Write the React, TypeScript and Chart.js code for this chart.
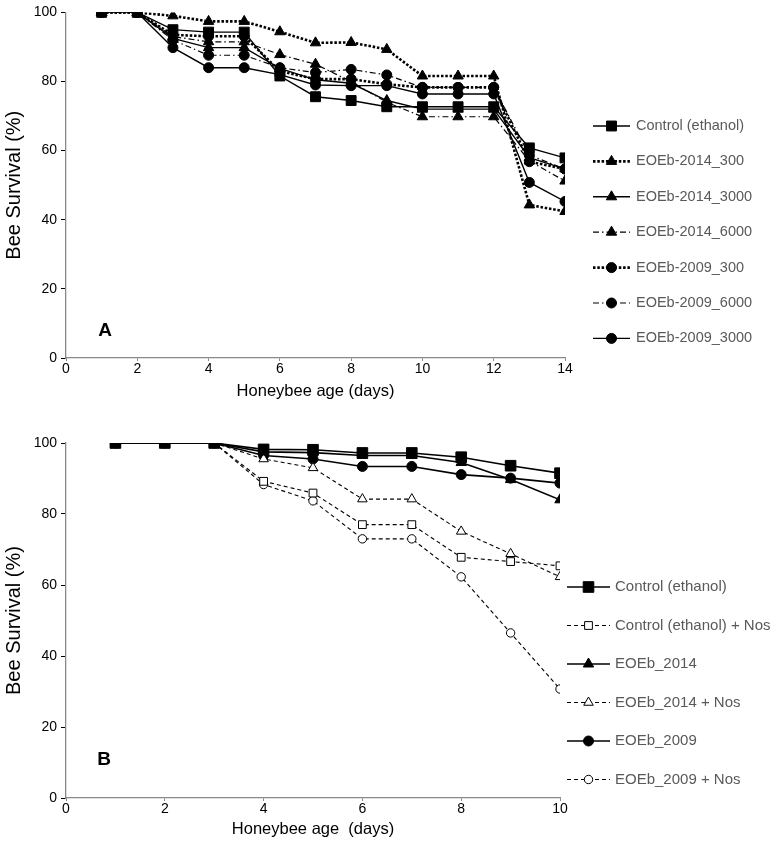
import React, { useEffect, useRef } from 'react';
import { Chart, registerables } from 'chart.js';
Chart.register(...registerables);

// ---------- Panel A data ----------
const daysA = [1, 2, 3, 4, 5, 6, 7, 8, 9, 10, 11, 12, 13, 14];
const controlA = [100, 100, 95, 94.3, 94.3, 81.6, 75.6, 74.5, 72.7, 72.7, 72.7, 72.7, 60.8, 57.9];
const e2014_300 = [100, 100, 99, 97.4, 97.4, 94.4, 91.2, 91.3, 89.3, 81.6, 81.6, 81.6, 44.3, 42.4];
const e2014_3000 = [100, 100, 92.5, 89.8, 89.8, 83.8, 80.5, 79.5, 74.5, 72, 72, 72, 58, 54.7];
const e2014_6000 = [100, 100, 93, 91.5, 91.5, 87.8, 85, 80, 74, 69.8, 69.8, 69.8, 57, 51.2];
const e2009_300 = [100, 100, 93.5, 93.1, 93.1, 83, 80.7, 80.7, 79.2, 78.3, 78.3, 78.3, 56.8, 54.7];
const e2009_6000 = [100, 100, 92, 87.6, 87.6, 84, 82.6, 83.5, 81.9, 78.3, 78.3, 78.3, 58.7, 54.7];
const e2009_3000 = [100, 100, 89.8, 84, 84, 82, 79, 78.8, 78.8, 76.4, 76.4, 76.4, 50.8, 45.3];
const labelsA = ['Control (ethanol)', 'EOEb-2014_300', 'EOEb-2014_3000', 'EOEb-2014_6000', 'EOEb-2009_300', 'EOEb-2009_6000', 'EOEb-2009_3000'];

// ---------- Panel B data ----------
const daysB = [1, 2, 3, 4, 5, 6, 7, 8, 9, 10];
const controlB = [100, 100, 100, 98.2, 98.1, 97.2, 97.2, 96, 93.6, 91.5];
const controlNosB = [100, 100, 100, 89.2, 85.9, 77, 77, 67.8, 66.6, 65.4];
const e2014B = [100, 100, 100, 97.5, 97.3, 96.5, 96.5, 94.5, 89.7, 84];
const e2014NosB = [100, 100, 100, 95.5, 93, 84.2, 84.2, 75.1, 68.8, 62.3];
const e2009B = [100, 100, 100, 96.5, 95.5, 93.4, 93.4, 91.1, 90.1, 88.7];
const e2009NosB = [100, 100, 100, 88.3, 83.7, 73, 73, 62.3, 46.5, 30.7];
const labelsB = ['Control (ethanol)', 'Control (ethanol) + Nos', 'EOEb_2014', 'EOEb_2014 + Nos', 'EOEb_2009', 'EOEb_2009 + Nos'];

const xTicksA = [0, 2, 4, 6, 8, 10, 12, 14];
const xTicksB = [0, 2, 4, 6, 8, 10];
const yTicks = [0, 20, 40, 60, 80, 100];

const FONT = 'Liberation Sans, Arial, sans-serif';
const AXIS = '#898989';
const LEG_TEXT = '#595959';

const SOLID: number[] = [];
const DOTTED = [2.5, 1.8];
const DASHDOT = [6, 3, 1.5, 3];
const DASHED = [4, 3];

const pts = (xs: number[], ys: number[]) => xs.map((x, i) => ({ x, y: ys[i] }));

function ds(label: string, xs: number[], ys: number[], style: string, radius: number, dash: number[], width: number, open = false) {
  return {
    label,
    data: pts(xs, ys),
    borderColor: '#000',
    borderWidth: width,
    borderDash: dash,
    borderCapStyle: 'butt',
    pointStyle: style,
    pointRadius: radius,
    pointBackgroundColor: open ? '#fff' : '#000',
    pointBorderColor: '#000',
    pointBorderWidth: 1,
    fill: false,
    tension: 0,
  };
}

function drawMarker(ctx: CanvasRenderingContext2D, style: string, x: number, y: number, r: number, fill: string) {
  ctx.save();
  ctx.setLineDash([]);
  ctx.beginPath();
  if (style === 'rect') {
    const s = r * Math.SQRT1_2;
    ctx.rect(x - s, y - s, 2 * s, 2 * s);
  } else if (style === 'triangle') {
    let rad = 0;
    ctx.moveTo(x + Math.sin(rad) * r, y - Math.cos(rad) * r);
    rad += (2 * Math.PI) / 3;
    ctx.lineTo(x + Math.sin(rad) * r, y - Math.cos(rad) * r);
    rad += (2 * Math.PI) / 3;
    ctx.lineTo(x + Math.sin(rad) * r, y - Math.cos(rad) * r);
    ctx.closePath();
  } else {
    ctx.arc(x, y, r, 0, Math.PI * 2);
  }
  ctx.fillStyle = fill;
  ctx.fill();
  ctx.strokeStyle = '#000';
  ctx.lineWidth = 1;
  ctx.stroke();
  ctx.restore();
}

function makeOverlay(cfg: { x0: number; x1: number; tx: number; y0: number; dy: number; fontSize: number; letter: string; lx: number; ly: number }) {
  return {
    id: 'overlay' + cfg.letter,
    afterDraw(chart: any) {
      const ctx: CanvasRenderingContext2D = chart.ctx;
      const sets = chart.data.datasets;
      sets.forEach((d: any, i: number) => {
        const y = cfg.y0 + i * cfg.dy;
        ctx.save();
        ctx.strokeStyle = '#000';
        ctx.lineWidth = d.borderWidth;
        ctx.setLineDash(d.borderDash || []);
        ctx.beginPath();
        ctx.moveTo(cfg.x0, y);
        ctx.lineTo(cfg.x1, y);
        ctx.stroke();
        ctx.restore();
        drawMarker(ctx, d.pointStyle, (cfg.x0 + cfg.x1) / 2, y, d.pointRadius, d.pointBackgroundColor);
        ctx.save();
        ctx.fillStyle = LEG_TEXT;
        ctx.font = `${cfg.fontSize}px ${FONT}`;
        ctx.textAlign = 'left';
        ctx.textBaseline = 'middle';
        ctx.fillText(d.label, cfg.tx, y);
        ctx.restore();
      });
      ctx.save();
      ctx.fillStyle = '#000';
      ctx.font = `bold 19px ${FONT}`;
      ctx.textAlign = 'center';
      ctx.textBaseline = 'middle';
      ctx.fillText(cfg.letter, cfg.lx, cfg.ly);
      ctx.restore();
    },
  };
}

function baseOptions(xMax: number, xTicks: number[], axisH: number, padding: any, xTitle: string, titlePadBottom: number) {
  return {
    responsive: false,
    animation: false,
    devicePixelRatio: 1,
    layout: { padding },
    plugins: { legend: { display: false }, tooltip: { enabled: false } },
    scales: {
      x: {
        type: 'linear',
        min: 0,
        max: xMax,
        afterBuildTicks: (s: any) => { s.ticks = xTicks.map((v) => ({ value: v })); },
        afterFit: (s: any) => { s.height = axisH; },
        grid: { drawOnChartArea: false, drawTicks: true, tickLength: 3, color: AXIS },
        border: { color: AXIS, width: 1.3 },
        ticks: { color: '#000', font: { family: FONT, size: 14 }, padding: 0, maxRotation: 0 },
        title: { display: true, text: xTitle, color: '#000', font: { family: FONT, size: 16.5 }, padding: { top: 0, bottom: titlePadBottom } },
      },
      y: {
        type: 'linear',
        min: 0,
        max: 100,
        afterBuildTicks: (s: any) => { s.ticks = yTicks.map((v) => ({ value: v })); },
        afterFit: (s: any) => { s.width = 66; },
        grid: { drawOnChartArea: false, drawTicks: true, tickLength: 5, color: '#000' },
        border: { color: AXIS, width: 1.3 },
        ticks: { color: '#000', font: { family: FONT, size: 14 }, padding: 4 },
        title: { display: true, text: 'Bee Survival (%)', color: '#000', font: { family: FONT, size: 20 }, padding: { top: 2, bottom: 0 } },
      },
    },
  };
}

const HA = 412;
const HB = 440;

export default function App() {
  const refA = useRef<HTMLCanvasElement>(null);
  const refB = useRef<HTMLCanvasElement>(null);

  useEffect(() => {
    const chartA = new Chart(refA.current as HTMLCanvasElement, {
      type: 'line',
      data: {
        datasets: [
          ds(labelsA[0], daysA, controlA, 'rect', 7, SOLID, 1.4),
          ds(labelsA[1], daysA, e2014_300, 'triangle', 6, DOTTED, 2.6),
          ds(labelsA[2], daysA, e2014_3000, 'triangle', 6, SOLID, 1.4),
          ds(labelsA[3], daysA, e2014_6000, 'triangle', 6, DASHDOT, 1.2),
          ds(labelsA[4], daysA, e2009_300, 'circle', 5, DOTTED, 2.6),
          ds(labelsA[5], daysA, e2009_6000, 'circle', 5, DASHDOT, 1.2),
          ds(labelsA[6], daysA, e2009_3000, 'circle', 5, SOLID, 1.4),
        ] as any,
      },
      options: baseOptions(14, xTicksA, HA - 358, { left: 0, top: 9, right: 774 - 565, bottom: 0 }, 'Honeybee age (days)', 11) as any,
      plugins: [makeOverlay({ x0: 593, x1: 630, tx: 636, y0: 126, dy: 35.4, fontSize: 14.5, letter: 'A', lx: 105, ly: 331 })],
    });

    const chartB = new Chart(refB.current as HTMLCanvasElement, {
      type: 'line',
      data: {
        datasets: [
          ds(labelsB[0], daysB, controlB, 'rect', 7.5, SOLID, 1.6),
          ds(labelsB[1], daysB, controlNosB, 'rect', 5.5, DASHED, 1.1, true),
          ds(labelsB[2], daysB, e2014B, 'triangle', 6, SOLID, 1.6),
          ds(labelsB[3], daysB, e2014NosB, 'triangle', 5.5, DASHED, 1.1, true),
          ds(labelsB[4], daysB, e2009B, 'circle', 5, SOLID, 1.6),
          ds(labelsB[5], daysB, e2009NosB, 'circle', 4.2, DASHED, 1.1, true),
        ] as any,
      },
      options: baseOptions(10, xTicksB, HB - 386, { left: 0, top: 31, right: 774 - 560, bottom: 0 }, 'Honeybee age  (days)', 13) as any,
      plugins: [makeOverlay({ x0: 567, x1: 610, tx: 615, y0: 175, dy: 38.5, fontSize: 15, letter: 'B', lx: 104, ly: 348 })],
    });

    return () => {
      chartA.destroy();
      chartB.destroy();
    };
  }, []);

  return (
    <div style={{ position: 'absolute', left: 0, top: 0, width: 774, height: 852, background: '#fff' }}>
      <canvas ref={refA} width={774} height={HA} style={{ position: 'absolute', left: 0, top: 0, width: 774, height: HA }} />
      <canvas ref={refB} width={774} height={HB} style={{ position: 'absolute', left: 0, top: HA, width: 774, height: HB }} />
    </div>
  );
}
